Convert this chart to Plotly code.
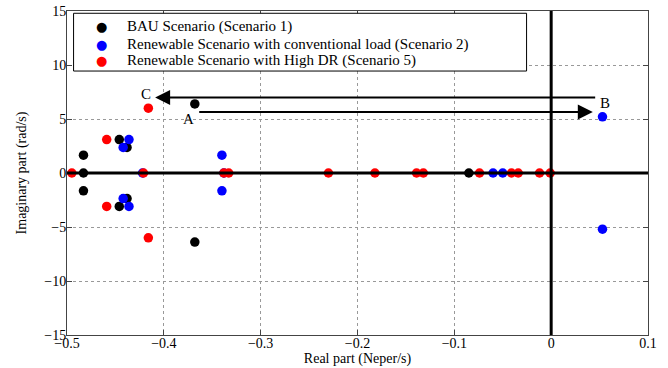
import plotly.graph_objects as go

# ---- data ----
bau_re = [-0.368, -0.368, -0.483, -0.483, -0.483, -0.446, -0.446, -0.438, -0.438, -0.085]
bau_im = [6.4, -6.4, 1.65, 0.0, -1.65, 3.1, -3.1, 2.37, -2.37, 0.0]

ren_re = [-0.436, -0.436, -0.442, -0.442, -0.422, -0.340, -0.340, -0.338, -0.060, -0.050, 0.053, 0.053]
ren_im = [3.1, -3.1, 2.37, -2.37, 0.0, 1.65, -1.65, 0.0, 0.0, 0.0, 5.2, -5.2]

dr_re = [-0.495, -0.459, -0.459, -0.416, -0.416, -0.421, -0.338, -0.333, -0.230, -0.182,
         -0.139, -0.132, -0.074, -0.041, -0.034, -0.012, -0.001]
dr_im = [0.0, 3.1, -3.1, 6.0, -6.0, 0.0, 0.0, 0.0, 0.0, 0.0,
         0.0, 0.0, 0.0, 0.0, 0.0, 0.0, 0.0]

names = ["BAU Scenario (Scenario 1)",
         "Renewable Scenario with conventional load (Scenario 2)",
         "Renewable Scenario with High DR (Scenario 5)"]
colors = ["#000000", "#0000ff", "#ff0000"]

# arrows: (tail_x, tail_y, tip_x, tip_y)
arrow_A = (-0.365, 5.64, 0.043, 5.64)
arrow_B = (0.047, 7.0, -0.409, 7.0)
labels = [("A", -0.375, 5.0), ("B", 0.056, 6.5), ("C", -0.418, 7.3)]

x_ticks = [-0.5, -0.4, -0.3, -0.2, -0.1, 0, 0.1]
x_ticktext = ["\u22120.5", "\u22120.4", "\u22120.3", "\u22120.2", "\u22120.1", "0", "0.1"]
y_ticks = [-15, -10, -5, 0, 5, 10, 15]
y_ticktext = ["\u221215", "\u221210", "\u22125", "0", "5", "10", "15"]

FONT = "Liberation Serif"

fig = go.Figure()
for re, im, nm, c in zip([bau_re, ren_re, dr_re], [bau_im, ren_im, dr_im], names, colors):
    fig.add_trace(go.Scatter(x=re, y=im, mode="markers", name=nm, showlegend=False,
                             marker=dict(color=c, size=9.5, symbol="circle")))

# thick axes through origin
fig.add_shape(type="line", xref="x domain", yref="y", x0=0, x1=1, y0=0, y1=0,
              line=dict(color="black", width=3), layer="above")
fig.add_shape(type="line", xref="x", yref="y domain", x0=0, x1=0, y0=0, y1=1,
              line=dict(color="black", width=3), layer="above")

for (tx, ty, hx, hy) in [arrow_A, arrow_B]:
    fig.add_annotation(x=hx, y=hy, ax=tx, ay=ty, xref="x", yref="y", axref="x", ayref="y",
                       showarrow=True, arrowhead=2, arrowsize=1.5, arrowwidth=2,
                       arrowcolor="black", text="")
for t, lx, ly in labels:
    fig.add_annotation(x=lx, y=ly, xref="x", yref="y", text=t, showarrow=False,
                       font=dict(family=FONT, size=15, color="black"))

# legend box (MATLAB style, compact rows)
leg_x0, leg_x1, leg_y0, leg_y1 = 0.0113, 0.791, 0.8147, 0.993
row_y = [0.951, 0.898, 0.846]
fig.add_shape(type="rect", xref="paper", yref="paper", x0=leg_x0, x1=leg_x1, y0=leg_y0, y1=leg_y1,
              line=dict(color="black", width=1), fillcolor="white", layer="above")
for nm, c, ry in zip(names, colors, row_y):
    fig.add_annotation(x=0.0602, y=ry, xref="paper", yref="paper", text="\u25cf",
                       showarrow=False, xanchor="center", yanchor="middle",
                       font=dict(family="DejaVu Sans", size=13, color=c))
    fig.add_annotation(x=0.1002, y=ry, xref="paper", yref="paper", text=nm,
                       showarrow=False, xanchor="left", yanchor="middle",
                       font=dict(family=FONT, size=15, color="black"))

axis_common = dict(showline=True, linecolor="#444", linewidth=1, mirror="ticks",
                   ticks="inside", ticklen=5, tickcolor="#444",
                   showgrid=True, gridcolor="#999", griddash="dot", gridwidth=1,
                   zeroline=False, tickfont=dict(family=FONT, size=14, color="black"),
                   automargin=False)

fig.update_xaxes(range=[-0.5, 0.1], tickvals=x_ticks, ticktext=x_ticktext,
                 ticklabelstandoff=-5,
                 title=dict(text="Real part (Neper/s)", standoff=2,
                            font=dict(family=FONT, size=14, color="black")),
                 **axis_common)
fig.update_yaxes(range=[-15, 15], tickvals=y_ticks, ticktext=y_ticktext,
                 ticklabelstandoff=-3,
                 title=dict(text="Imaginary part (rad/s)", standoff=14,
                            font=dict(family=FONT, size=14, color="black")),
                 **axis_common)

fig.update_layout(width=668, height=368, margin=dict(l=67, r=20, t=11, b=33),
                  plot_bgcolor="white", paper_bgcolor="white", showlegend=False)

fig.write_html("out.html")
